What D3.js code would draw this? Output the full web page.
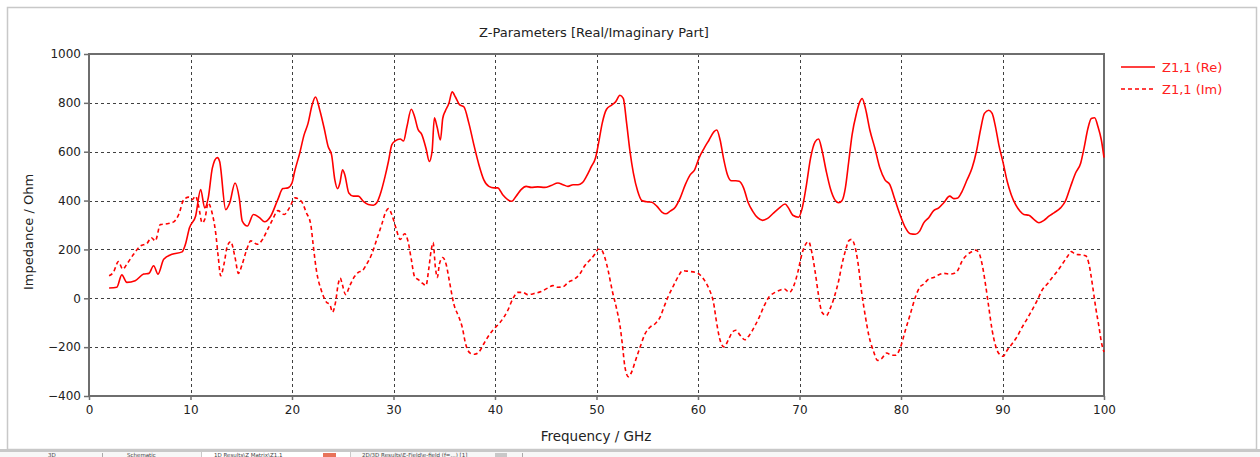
<!DOCTYPE html>
<html><head><meta charset="utf-8">
<script src="https://cdn.jsdelivr.net/npm/d3@7"></script>
<style>
html,body{margin:0;padding:0;background:#fff;}
svg{display:block;}
text{font-family:"DejaVu Sans","Liberation Sans",sans-serif;}
</style></head>
<body>
<svg id="chart" width="1260" height="457"></svg>
<script>
const xTicks = [0,10,20,30,40,50,60,70,80,90,100];
const yTicks = [-400,-200,0,200,400,600,800,1000];
const seriesNames = ["Z1,1 (Re)","Z1,1 (Im)"];

const reFreq = [1.98,2.74,3.23,3.73,4.55,5.38,5.9,6.37,6.8,7.36,8.18,9.17,9.5,9.9,10.5,11.0,11.4,11.75,12.15,12.64,12.87,13.47,13.86,14.39,14.8,15.1,15.6,16.2,16.8,17.3,17.9,18.6,19.1,19.6,20.0,20.26,20.76,21.19,21.58,21.98,22.31,22.74,23.17,23.56,23.9,24.22,24.49,24.72,24.98,25.2,25.6,26.04,26.53,27.03,27.52,28.02,28.35,28.68,29.17,29.5,29.83,30.17,30.66,30.99,31.32,31.75,32.08,32.4,32.8,33.2,33.53,33.8,34.03,34.29,34.62,34.85,35.1,35.45,35.78,36.1,36.5,36.93,37.43,37.92,38.42,38.9,39.4,39.9,40.26,40.76,41.25,41.65,42.08,42.57,43.07,43.56,44.22,44.88,45.54,46.2,46.7,47.19,47.69,48.18,48.58,49.01,49.5,49.9,50.23,50.56,50.99,51.49,51.88,52.31,52.64,52.97,53.3,53.63,54.06,54.46,54.95,55.45,55.94,56.44,56.83,57.26,57.76,58.25,58.75,59.24,59.67,60.1,60.6,61.09,61.58,61.85,62.18,62.51,62.9,63.3,63.73,64.06,64.49,64.95,65.38,65.87,66.37,66.86,67.46,68.02,68.58,68.91,69.34,69.9,70.23,70.66,71.09,71.55,71.88,72.21,72.64,73.07,73.47,73.86,74.19,74.52,74.85,75.18,75.61,75.94,76.17,76.5,76.93,77.43,77.92,78.42,78.9,79.4,79.9,80.43,80.92,81.41,81.84,82.24,82.73,83.22,83.72,84.21,84.8,85.2,85.6,86.02,86.51,87.0,87.43,87.83,88.22,88.65,88.98,89.31,89.64,90.07,90.46,90.86,91.28,91.71,92.1,92.6,93.09,93.59,94.08,94.57,95.07,95.72,96.22,96.71,97.2,97.7,98.03,98.42,98.75,99.08,99.41,99.74,100];
const reValues = [42,45,96,65,72,99,102,133,99,160,180,190,221,289,336,445,370,411,533,576,560,363,390,472,411,316,296,343,330,313,336,404,449,452,472,519,594,669,716,791,824,770,696,621,587,485,449,472,526,506,431,418,418,397,384,381,391,424,499,560,628,644,652,644,702,774,743,693,669,614,560,601,739,702,648,736,766,797,845,824,793,784,716,628,546,485,458,452,452,424,404,397,418,445,458,454,456,454,462,472,465,458,465,465,472,499,540,574,641,716,774,791,804,831,818,716,601,513,438,400,395,393,377,353,346,357,373,411,465,506,526,574,614,648,682,689,648,574,506,481,481,479,452,391,357,330,319,327,350,370,386,370,340,332,363,458,574,641,652,607,519,445,404,391,400,452,560,669,757,804,818,777,689,614,533,485,465,404,343,289,264,262,275,309,330,359,370,391,418,408,411,438,485,533,601,689,757,770,757,702,628,553,479,424,384,357,343,340,323,309,319,336,350,370,400,458,513,553,614,696,736,739,702,648,576];

const imFreq = [1.98,2.4,2.9,3.33,3.73,4.39,5.05,5.7,6.14,6.53,7.03,7.69,8.35,8.84,9.34,9.84,10.17,10.5,10.8,11.15,11.4,11.75,12.08,12.48,12.74,12.97,13.3,13.63,13.96,14.39,14.72,15.1,15.6,15.94,16.6,17.1,17.6,18.1,18.6,19.24,19.74,20.3,20.92,21.42,21.85,22.08,22.41,22.9,23.4,23.73,23.99,24.29,24.55,24.75,24.95,25.28,25.7,26.14,26.53,26.93,27.36,27.85,28.35,28.84,29.24,29.5,29.83,30.23,30.66,31.1,31.42,31.75,32.08,32.48,32.87,33.2,33.47,33.73,33.9,34.13,34.32,34.52,34.85,35.18,35.5,35.94,36.44,36.77,37.1,37.6,38.0,38.42,38.9,39.4,39.9,40.4,41.25,41.75,42.24,42.74,43.23,43.9,44.55,45.2,45.7,46.2,46.7,47.2,47.85,48.35,48.84,49.34,49.83,50.17,50.5,50.82,51.15,51.55,51.98,52.31,52.54,52.8,53.14,53.47,53.8,54.3,54.79,55.28,55.78,56.27,56.7,57.1,57.59,58.09,58.48,59.08,59.74,60.2,60.66,61.09,61.52,61.85,62.18,62.57,62.97,63.4,63.73,64.16,64.62,65.05,65.54,66.04,66.53,67.03,67.59,68.12,68.51,69.01,69.44,69.83,70.23,70.56,70.89,71.22,71.55,71.88,72.21,72.64,73.07,73.47,73.86,74.19,74.52,74.85,75.12,75.45,75.78,76.1,76.5,76.83,77.26,77.69,78.09,78.58,79.08,79.47,79.9,80.43,80.92,81.41,81.84,82.24,82.73,83.22,83.72,84.21,84.87,85.26,85.6,86.02,86.51,87.0,87.34,87.66,87.99,88.32,88.65,88.98,89.31,89.64,90.07,90.46,90.95,91.45,91.94,92.43,92.93,93.42,93.91,94.41,94.9,95.39,95.89,96.38,96.78,97.2,97.7,98.19,98.52,98.85,99.18,99.51,99.74,100];
const imValues = [92,106,150,119,140,180,214,224,248,235,302,305,313,343,404,414,404,418,377,309,323,390,357,268,167,92,140,214,232,167,102,140,207,235,221,241,282,323,359,343,370,411,397,350,302,221,113,31,-16,-26,-57,-16,58,83,58,15,52,88,106,113,140,180,241,302,354,367,343,289,241,264,235,160,88,75,61,52,119,201,228,126,85,140,167,140,72,-23,-77,-118,-186,-226,-229,-220,-186,-152,-125,-104,-50,-3,24,24,15,20,28,42,52,45,47,65,79,99,133,156,180,201,197,167,113,31,-43,-111,-186,-281,-321,-301,-260,-199,-145,-118,-104,-77,-30,11,52,92,113,110,106,96,72,38,-16,-104,-172,-199,-172,-138,-131,-152,-170,-152,-118,-77,-30,7,24,34,38,24,52,106,180,218,232,187,106,11,-57,-71,-37,11,72,140,194,235,241,214,140,31,-77,-152,-213,-254,-247,-224,-233,-233,-206,-131,-64,4,45,58,79,85,96,102,99,102,115,153,178,191,197,187,140,58,-37,-131,-193,-226,-237,-213,-186,-156,-118,-84,-47,-9,34,58,85,110,140,170,191,180,178,174,140,58,-37,-118,-179,-220];

const tabLabels = ["3D","Schematic","1D Results\\Z Matrix\\Z1,1","2D/3D Results\\E-Field\\e-field (f=...) [1]"];

const svg = d3.select("#chart");
const W = 1260, H = 457;
const pL = 89, pR = 1104, pT = 54, pB = 396;
const x = d3.scaleLinear().domain([0,100]).range([pL,pR]);
const y = d3.scaleLinear().domain([-400,1000]).range([pB,pT]);

// outer panel frame
svg.append("rect").attr("x",0).attr("y",0).attr("width",W).attr("height",H).attr("fill","#fff");
svg.append("rect").attr("x",7.5).attr("y",7.5).attr("width",1249).attr("height",442).attr("fill","#fff").attr("stroke","#c8c8c8").attr("stroke-width",1.5);

// bottom tab strip
const tabs = svg.append("g");
tabs.append("rect").attr("x",0).attr("y",449).attr("width",W).attr("height",3).attr("fill","#c8c8c8");
tabs.append("rect").attr("x",0).attr("y",452).attr("width",W).attr("height",5).attr("fill","#f7f7f7");
tabs.append("rect").attr("x",201.5).attr("y",451.5).attr("width",149).attr("height",8).attr("fill","#fff").attr("stroke","#c9c9c9");
tabs.append("rect").attr("x",323).attr("y",453).attr("width",13).attr("height",5).attr("fill","#e8735a");
tabs.append("rect").attr("x",495).attr("y",453).attr("width",12).attr("height",5).attr("fill","#c8c8c8");
tabs.append("line").attr("x1",102.5).attr("x2",102.5).attr("y1",453).attr("y2",457).attr("stroke","#aaa");
tabs.append("line").attr("x1",522.5).attr("x2",522.5).attr("y1",453).attr("y2",457).attr("stroke","#aaa");
const tabX = [48,127,214,362];
tabs.selectAll("text.tab").data(tabLabels).enter().append("text")
  .attr("x",(d,i)=>tabX[i]).attr("y",456.5).attr("font-size",5.5).attr("fill","#444").text(d=>d);

// grid
const grid = svg.append("g").attr("stroke","#404040").attr("stroke-width",1).attr("stroke-dasharray","3,3");
grid.selectAll("line.v").data(xTicks.slice(1,-1)).enter().append("line")
  .attr("x1",d=>Math.round(x(d))+0.5).attr("x2",d=>Math.round(x(d))+0.5).attr("y1",pT).attr("y2",pB);
grid.selectAll("line.h").data(yTicks.slice(1,-1)).enter().append("line")
  .attr("y1",d=>Math.round(y(d))+0.5).attr("y2",d=>Math.round(y(d))+0.5).attr("x1",pL).attr("x2",pR);

// axes
const xAxis = d3.axisBottom(x).tickValues(xTicks).tickSize(4).tickPadding(5).tickFormat(d3.format("d"));
const yAxis = d3.axisLeft(y).tickValues(yTicks).tickSize(5).tickPadding(3).tickFormat(d3.format("d"));
const gx = svg.append("g").attr("transform",`translate(0,${pB})`).call(xAxis);
const gy = svg.append("g").attr("transform",`translate(${pL},0)`).call(yAxis);
[gx,gy].forEach(g=>{
  g.select(".domain").remove();
  g.selectAll(".tick line").attr("stroke","#6e6e6e").attr("stroke-width",1.5);
  g.selectAll(".tick text").attr("font-family","DejaVu Sans, sans-serif").attr("font-size",12).attr("fill","#222");
});
svg.append("rect").attr("x",pL).attr("y",pT).attr("width",pR-pL).attr("height",pB-pT)
  .attr("fill","none").attr("stroke","#6e6e6e").attr("stroke-width",2);

// lines
const line = d3.line().x(d=>x(d[0])).y(d=>y(d[1])).curve(d3.curveMonotoneX);
const reData = reFreq.map((f,i)=>[f,reValues[i]]);
const imData = imFreq.map((f,i)=>[f,imValues[i]]);
const plot = svg.append("g");
plot.append("path").datum(reData).attr("d",line).attr("fill","none").attr("stroke","#ff0000").attr("stroke-width",1.6);
plot.append("path").datum(imData).attr("d",line).attr("fill","none").attr("stroke","#ff0000").attr("stroke-width",1.6).attr("stroke-dasharray","4,3");

// title & labels
svg.append("text").attr("x",594).attr("y",37).attr("text-anchor","middle").attr("font-size",13).attr("fill","#222")
  .text("Z-Parameters [Real/Imaginary Part]");
svg.append("text").attr("x",596).attr("y",441).attr("text-anchor","middle").attr("font-size",13.5).attr("fill","#222")
  .text("Frequency / GHz");
svg.append("text").attr("transform","translate(33,232) rotate(-90)").attr("text-anchor","middle").attr("font-size",13).attr("fill","#222")
  .text("Impedance / Ohm");

// legend
const leg = svg.append("g");
const dashes = [null,"4,3"];
seriesNames.forEach((n,i)=>{
  const ly = 67 + i*22;
  leg.append("line").attr("x1",1121).attr("x2",1155).attr("y1",ly).attr("y2",ly)
    .attr("stroke","#ff0000").attr("stroke-width",1.6).attr("stroke-dasharray",dashes[i]);
  leg.append("text").attr("x",1162).attr("y",ly+5).attr("font-size",13).attr("fill","#ff2020").text(n);
});
</script>
</body></html>
